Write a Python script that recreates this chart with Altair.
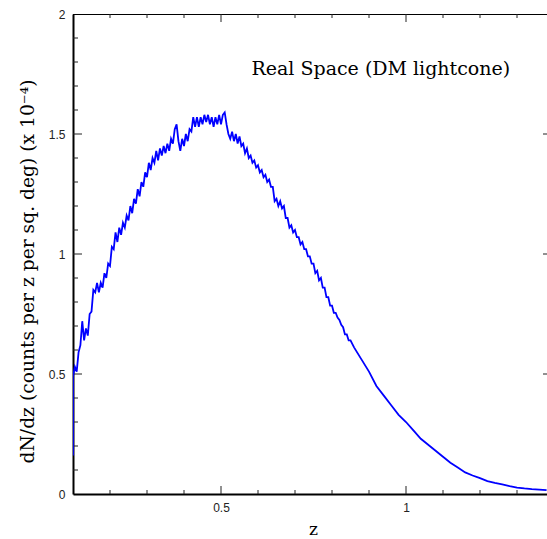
import altair as alt
import pandas as pd

# ---- data ----
z_noisy = [0.100, 0.105, 0.110, 0.115, 0.120, 0.125, 0.130, 0.135, 0.140, 0.145,
           0.150, 0.155, 0.160, 0.165, 0.170, 0.175, 0.180, 0.185, 0.190, 0.195,
           0.200, 0.205, 0.210, 0.215, 0.220, 0.225, 0.230, 0.235, 0.240, 0.245,
           0.250, 0.255, 0.260, 0.265, 0.270, 0.275, 0.280, 0.285, 0.290, 0.295,
           0.300, 0.305, 0.310, 0.315, 0.320, 0.325, 0.330, 0.335, 0.340, 0.345,
           0.350, 0.355, 0.360, 0.365, 0.370, 0.375, 0.380, 0.385, 0.390, 0.395,
           0.400, 0.405, 0.410, 0.415, 0.420, 0.425, 0.430, 0.435, 0.440, 0.445,
           0.450, 0.455, 0.460, 0.465, 0.470, 0.475, 0.480, 0.485, 0.490, 0.495,
           0.500, 0.505, 0.510, 0.515, 0.520, 0.525, 0.530, 0.535, 0.540, 0.545,
           0.550, 0.555, 0.560, 0.565, 0.570, 0.575, 0.580, 0.585, 0.590, 0.595,
           0.600, 0.605, 0.610, 0.615, 0.620, 0.625, 0.630, 0.635, 0.640, 0.645,
           0.650, 0.655, 0.660, 0.665, 0.670, 0.675, 0.680, 0.685, 0.690, 0.695,
           0.700, 0.705, 0.710, 0.715, 0.720, 0.725, 0.730, 0.735, 0.740, 0.745,
           0.750, 0.755, 0.760, 0.765, 0.770, 0.775, 0.780, 0.785, 0.790, 0.795,
           0.800, 0.805, 0.810, 0.815, 0.820, 0.825, 0.830, 0.835, 0.840, 0.845,
           0.850]
dndz_noisy = [0.49, 0.53, 0.51, 0.59, 0.62, 0.72, 0.64, 0.69, 0.66, 0.75,
              0.76, 0.85, 0.84, 0.88, 0.84, 0.88, 0.86, 0.92, 0.90, 0.96,
              0.95, 1.03, 1.02, 1.09, 1.05, 1.11, 1.08, 1.13, 1.11, 1.16,
              1.14, 1.20, 1.17, 1.23, 1.21, 1.27, 1.24, 1.30, 1.28, 1.34,
              1.32, 1.38, 1.35, 1.40, 1.38, 1.43, 1.39, 1.44, 1.41, 1.45,
              1.42, 1.46, 1.43, 1.48, 1.46, 1.52, 1.54, 1.47, 1.43, 1.48,
              1.45, 1.50, 1.47, 1.52, 1.51, 1.57, 1.53, 1.57, 1.53, 1.57,
              1.54, 1.58, 1.55, 1.58, 1.54, 1.57, 1.53, 1.57, 1.54, 1.58,
              1.54, 1.58, 1.59, 1.54, 1.50, 1.48, 1.51, 1.47, 1.50, 1.46,
              1.49, 1.45, 1.46, 1.42, 1.44, 1.40, 1.41, 1.38, 1.39, 1.36,
              1.37, 1.34, 1.35, 1.32, 1.33, 1.30, 1.31, 1.28, 1.28, 1.22,
              1.23, 1.20, 1.22, 1.19, 1.20, 1.15, 1.15, 1.11, 1.12, 1.09,
              1.10, 1.07, 1.07, 1.04, 1.05, 1.02, 1.02, 0.99, 0.99, 0.96,
              0.96, 0.92, 0.93, 0.89, 0.90, 0.86, 0.86, 0.82, 0.82, 0.785,
              0.785, 0.755, 0.755, 0.735, 0.725, 0.705, 0.695, 0.665, 0.665, 0.64,
              0.64]
z_tail = [0.86, 0.88, 0.90, 0.92, 0.94, 0.96, 0.98, 1.00, 1.02, 1.04,
          1.06, 1.08, 1.10, 1.12, 1.14, 1.16, 1.18, 1.20, 1.22, 1.24,
          1.26, 1.28, 1.30, 1.32, 1.34, 1.36, 1.38]
dndz_tail = [0.61, 0.56, 0.51, 0.45, 0.41, 0.37, 0.33, 0.30, 0.265, 0.23,
             0.205, 0.18, 0.155, 0.13, 0.11, 0.09, 0.077, 0.066, 0.054, 0.046,
             0.040, 0.033, 0.027, 0.023, 0.020, 0.018, 0.016]
z_start = [0.100]
dndz_start = [0.16]

x_major = [0.5, 1.0]
x_minor = [0.2, 0.3, 0.4, 0.6, 0.7, 0.8, 0.9, 1.1, 1.2, 1.3]
y_major = [0.5, 1.0, 1.5]
y_minor = [0.1, 0.2, 0.3, 0.4, 0.6, 0.7, 0.8, 0.9, 1.1, 1.2, 1.3, 1.4, 1.6, 1.7, 1.8, 1.9]
y_labels = [0, 0.5, 1, 1.5, 2]
x_labels = [0.5, 1]

annot_text = ["Real Space (DM lightcone)"]
annot_z = [0.932]
annot_y = [1.746]

# ---- build tables ----
zs = z_start + z_noisy + z_tail
vs = dndz_start + dndz_noisy + dndz_tail
curve = pd.DataFrame({"z": zs, "dndz": vs, "idx": list(range(len(zs)))})

W, H = 474, 480
XMIN, XMAX = 0.1, 0.1 + W / 370.0
xs = alt.Scale(domain=[XMIN, XMAX], nice=False, zero=False)
ys = alt.Scale(domain=[0, 2], nice=False, zero=False)

SERIF = "DejaVu Serif"
SANS = "Liberation Sans"

line = alt.Chart(curve).mark_line(color="#0000ff", strokeWidth=1.8, clip=True).encode(
    x=alt.X("z:Q", scale=xs,
            axis=alt.Axis(values=x_labels, ticks=False, grid=False, domainColor="black",
                          domainWidth=2, labelFont=SANS, labelFontSize=12, labelColor="#222",
                          labelPadding=8, labelExpr="datum.value == 1 ? '1' : datum.label",
                          title="z", titleFont=SERIF, titleFontSize=17, titleFontWeight="normal",
                          titleColor="black", titleX=240, titleY=35, titleBaseline="middle",
                          titleAlign="center")),
    y=alt.Y("dndz:Q", scale=ys,
            axis=alt.Axis(values=y_labels, ticks=False, grid=False, domainColor="black",
                          domainWidth=2, labelFont=SANS, labelFontSize=12, labelColor="#222",
                          labelPadding=8, format="~g",
                          title="dN/dz (counts per z per sq. deg) (x 10⁻⁴)",
                          titleFont=SERIF, titleFontSize=18.7, titleFontWeight="normal",
                          titleColor="black", titleAngle=270, titleX=-46, titleY=257,
                          titleAlign="center", titleBaseline="middle")),
    order="idx:Q",
)

def xticks(vals, y1, y2):
    return alt.Chart(pd.DataFrame({"v": vals})).mark_rule(color="#222", strokeWidth=1).encode(
        x=alt.X("v:Q", scale=xs), y=alt.value(y1), y2=alt.value(y2))

def yticks(vals, x1, x2):
    return alt.Chart(pd.DataFrame({"v": vals})).mark_rule(color="#222", strokeWidth=1).encode(
        y=alt.Y("v:Q", scale=ys), x=alt.value(x1), x2=alt.value(x2))

top_line = alt.Chart(pd.DataFrame({"a": [0]})).mark_rule(color="black", strokeWidth=1).encode(
    x=alt.value(0), x2=alt.value(W), y=alt.value(0.5))

annot = alt.Chart(pd.DataFrame({"t": annot_text, "z": annot_z, "v": annot_y})).mark_text(
    font=SERIF, fontSize=19, color="black", align="center", baseline="alphabetic").encode(
    x=alt.X("z:Q", scale=xs), y=alt.Y("v:Q", scale=ys), text="t:N")

chart = alt.layer(
    top_line,
    xticks(x_minor, H, H - 4), xticks(x_major, H, H - 8),
    xticks(x_minor, 0, 4), xticks(x_major, 0, 8),
    yticks(y_minor, 0, 5), yticks(y_major, 0, 9),
    yticks(y_major, W - 4, W),
    line, annot,
).properties(
    width=W, height=H,
    autosize=alt.AutoSizeParams(type="none"),
    padding={"left": 73, "top": 14, "right": 0, "bottom": 45},
).configure_view(stroke=None).configure(background="white")

chart.save("out.html", embed_options={"renderer": "svg", "actions": False})
